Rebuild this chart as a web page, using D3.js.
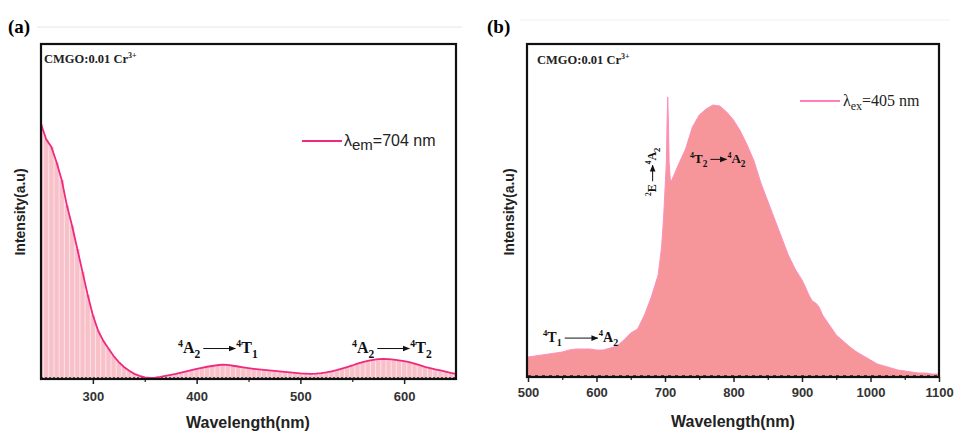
<!DOCTYPE html>
<html><head><meta charset="utf-8">
<script src="https://cdn.jsdelivr.net/npm/d3@7"></script>
<style>body{margin:0;background:#fff}svg{display:block}</style>
</head><body>
<svg id="c" width="956" height="432"></svg>
<script>
// ---- Data: panel (a) excitation spectrum (λem = 704 nm)
const exWavelength = [250,255,260,265,270,275,280,285,290,295,300,305,310,315,320,325,330,335,340,345,350,355,360,365,370,375,380,385,390,395,400,405,410,415,420,425,430,435,440,445,450,455,460,465,470,475,480,485,490,495,500,505,510,515,520,525,530,535,540,545,550,555,560,565,570,575,580,585,590,595,600,605,610,615,620,625,630,635,640,645,650];
const exIntensity = [1.00,0.94,0.91,0.85,0.78,0.68,0.60,0.51,0.42,0.33,0.25,0.19,0.15,0.12,0.09,0.066,0.047,0.032,0.02,0.012,0.006,0.004,0.005,0.008,0.012,0.016,0.02,0.025,0.03,0.035,0.04,0.044,0.048,0.051,0.054,0.056,0.055,0.052,0.049,0.046,0.043,0.04,0.038,0.036,0.034,0.032,0.03,0.028,0.026,0.024,0.022,0.021,0.02,0.021,0.023,0.026,0.03,0.035,0.041,0.047,0.053,0.06,0.066,0.071,0.075,0.078,0.079,0.078,0.076,0.073,0.07,0.066,0.06,0.054,0.048,0.043,0.038,0.034,0.029,0.024,0.02];
const exTicks = [300,400,500,600];

// ---- Data: panel (b) emission spectrum (λex = 405 nm)
const emWavelength = [500,510,520,530,540,550,560,570,580,590,600,610,620,630,640,650,660,670,680,690,695,698,700,702,703,704,705,706,708,710,715,720,730,740,750,760,770,780,790,800,810,820,830,840,850,860,870,880,890,900,905,910,915,920,925,930,940,950,960,970,980,990,1000,1010,1020,1030,1040,1050,1060,1070,1080,1090,1100];
const emIntensity = [20,21,22,23,24,25,27,28,28,28,27,27,29,31,37,44,48,62,80,102,130,160,188,215,255,280,255,215,195,197,205,213,228,250,262,268,272,271,265,257,246,232,216,194,176,158,140,122,108,97,90,82,76,74,70,62,52,42,36,30,25,21,17,13,11,9,7,6,5,4,4,3,3];
const emTicks = [500,600,700,800,900,1000,1100];

const svg = d3.select("#c");
const serif = "'Liberation Serif','Times New Roman',serif";
const sans = "'Liberation Sans',Arial,sans-serif";

// faint header rules
svg.append("line").attr("x1",37).attr("x2",462).attr("y1",27).attr("y2",27).attr("stroke","#e6e6e6");
svg.append("line").attr("x1",520).attr("x2",950).attr("y1",20).attr("y2",20).attr("stroke","#f0f0f0");

// ---------- Panel (a)
const xA = d3.scaleLinear().domain([250,650]).range([41,456]);
const yA = d3.scaleLinear().domain([0,1]).range([379,124]);
const gA = svg.append("g");
svg.append("clipPath").attr("id","clipA").append("rect").attr("x",41).attr("y",44).attr("width",415).attr("height",335);
const plotA = gA.append("g").attr("clip-path","url(#clipA)");
const exData = exWavelength.map((w,i)=>({w, v: exIntensity[i]}));
plotA.append("path").datum(exData)
  .attr("d", d3.area().x(d=>xA(d.w)).y0(yA(0)).y1(d=>yA(d.v)))
  .attr("fill","#fde3e6");
plotA.selectAll("rect.bar").data(exData).enter().append("rect")
  .attr("x", d=>xA(d.w)-2.1).attr("width",4.2)
  .attr("y", d=>yA(d.v)).attr("height", d=>yA(0)-yA(d.v))
  .attr("fill","#f8c1c9");
plotA.append("line").attr("x1",41).attr("x2",456).attr("y1",377.5).attr("y2",377.5)
  .attr("stroke","#555").attr("stroke-width",1).attr("stroke-dasharray","2,2");
plotA.append("path").datum(exData)
  .attr("d", d3.line().x(d=>xA(d.w)).y(d=>yA(d.v)))
  .attr("fill","none").attr("stroke","#f0297f").attr("stroke-width",1.8);

// axis (a)
const axA = gA.append("g").attr("transform","translate(0,379)")
  .call(d3.axisBottom(xA).tickValues(exTicks).tickSize(5).tickFormat(d3.format("d")));
axA.select(".domain").remove();
axA.selectAll("text").attr("font-family",sans).attr("font-weight","bold").attr("font-size",13).attr("fill","#333").attr("dy","1.05em");
axA.selectAll("line").attr("stroke","#222").attr("stroke-width",1.5);
gA.append("g").attr("transform","translate(0,379)")
  .call(d3.axisBottom(xA).tickValues([350,450,550]).tickSize(3).tickFormat(""))
  .call(g=>{g.select(".domain").remove(); g.selectAll("line").attr("stroke","#222").attr("stroke-width",1.2);});
gA.append("rect").attr("x",41).attr("y",44).attr("width",415).attr("height",335)
  .attr("fill","none").attr("stroke","#111").attr("stroke-width",2.2);

gA.append("text").attr("x",248).attr("y",428).attr("text-anchor","middle")
  .attr("font-family",sans).attr("font-weight","bold").attr("font-size",16).attr("fill","#222").text("Wavelength(nm)");
gA.append("text").attr("transform","translate(25,212) rotate(-90)").attr("text-anchor","middle")
  .attr("font-family",sans).attr("font-weight","bold").attr("font-size",14).attr("fill","#222").text("Intensity(a.u)");
svg.append("text").attr("x",8).attr("y",33).attr("font-family",serif).attr("font-weight","bold").attr("font-size",19).text("(a)");
gA.append("text").attr("x",44).attr("y",63).attr("font-family",serif).attr("font-weight","bold").attr("font-size",12.5).attr("fill","#222")
  .html("CMGO:0.01 Cr<tspan dy='-5' font-size='8'>3+</tspan>");
// legend (a)
gA.append("line").attr("x1",302).attr("x2",342).attr("y1",141).attr("y2",141).attr("stroke","#f0297f").attr("stroke-width",2);
gA.append("text").attr("x",344).attr("y",146).attr("font-family",sans).attr("font-size",16).attr("fill","#222")
  .html("λ<tspan dy='4' font-size='15'>em</tspan><tspan dy='-4'>=704 nm</tspan>");

// arrows marker
const defs = svg.append("defs");
defs.append("marker").attr("id","arr").attr("viewBox","0 0 10 10").attr("refX",9).attr("refY",5)
  .attr("markerWidth",7).attr("markerHeight",7).attr("markerUnits","userSpaceOnUse").attr("orient","auto")
  .append("path").attr("d","M0,1 L10,5 L0,9 Z").attr("fill","#111");

function transition(g, x, y, a, b, size, arrowLen) {
  const t1 = g.append("text").attr("x",x).attr("y",y).attr("font-family",serif).attr("font-weight","bold").attr("font-size",size).attr("fill","#111");
  t1.append("tspan").attr("dy",-size*0.4).attr("font-size",size*0.62).text(a[0]);
  t1.append("tspan").attr("dy",size*0.4).text(a[1]);
  t1.append("tspan").attr("dy",size*0.3).attr("font-size",size*0.72).text(a[2]);
  const w1 = t1.node().getComputedTextLength();
  const ax = x + w1 + 3;
  g.append("line").attr("x1",ax).attr("x2",ax+arrowLen).attr("y1",y-size*0.28).attr("y2",y-size*0.28)
    .attr("stroke","#111").attr("stroke-width",1).attr("marker-end","url(#arr)");
  const t2 = g.append("text").attr("x",ax+arrowLen+1).attr("y",y).attr("font-family",serif).attr("font-weight","bold").attr("font-size",size).attr("fill","#111");
  t2.append("tspan").attr("dy",-size*0.4).attr("font-size",size*0.62).text(b[0]);
  t2.append("tspan").attr("dy",size*0.4).text(b[1]);
  t2.append("tspan").attr("dy",size*0.3).attr("font-size",size*0.72).text(b[2]);
}
transition(gA, 178, 353, ["4","A","2"], ["4","T","1"], 16, 32);
transition(gA, 352, 353, ["4","A","2"], ["4","T","2"], 16, 32);

// ---------- Panel (b)
const xB = d3.scaleLinear().domain([500,1100]).range([528,939]);
const yB = d3.scaleLinear().domain([0,280]).range([377,97]);
const gB = svg.append("g");
svg.append("clipPath").attr("id","clipB").append("rect").attr("x",528).attr("y",44).attr("width",411).attr("height",333);
const plotB = gB.append("g").attr("clip-path","url(#clipB)");
const emData = emWavelength.map((w,i)=>({w, v: emIntensity[i]}));
plotB.append("path").datum(emData)
  .attr("d", d3.area().x(d=>xB(d.w)).y0(yB(0)).y1(d=>yB(d.v)))
  .attr("fill","#f7969a");
plotB.append("path").datum(emData)
  .attr("d", d3.line().x(d=>xB(d.w)).y(d=>yB(d.v)))
  .attr("fill","none").attr("stroke","#ff8fc0").attr("stroke-width",1);
plotB.append("line").attr("x1",528).attr("x2",939).attr("y1",375.5).attr("y2",375.5)
  .attr("stroke","#444").attr("stroke-width",1).attr("stroke-dasharray","3,4");

const axB = gB.append("g").attr("transform","translate(0,377)")
  .call(d3.axisBottom(xB).tickValues(emTicks).tickSize(5).tickFormat(d3.format("d")));
axB.select(".domain").remove();
axB.selectAll("text").attr("font-family",sans).attr("font-weight","bold").attr("font-size",13).attr("fill","#333").attr("dy","0.95em");
axB.selectAll("line").attr("stroke","#222").attr("stroke-width",1.5);
gB.append("g").attr("transform","translate(0,377)")
  .call(d3.axisBottom(xB).tickValues([550,650,750,850,950,1050]).tickSize(3).tickFormat(""))
  .call(g=>{g.select(".domain").remove(); g.selectAll("line").attr("stroke","#222").attr("stroke-width",1.2);});
gB.append("rect").attr("x",527).attr("y",44).attr("width",412).attr("height",333)
  .attr("fill","none").attr("stroke","#111").attr("stroke-width",2.2);

gB.append("text").attr("x",733).attr("y",427).attr("text-anchor","middle")
  .attr("font-family",sans).attr("font-weight","bold").attr("font-size",16).attr("fill","#222").text("Wavelength(nm)");
gB.append("text").attr("transform","translate(514,212) rotate(-90)").attr("text-anchor","middle")
  .attr("font-family",sans).attr("font-weight","bold").attr("font-size",14).attr("fill","#222").text("Intensity(a.u)");
svg.append("text").attr("x",487).attr("y",33).attr("font-family",serif).attr("font-weight","bold").attr("font-size",19).text("(b)");
gB.append("text").attr("x",537).attr("y",64).attr("font-family",serif).attr("font-weight","bold").attr("font-size",12.5).attr("fill","#222")
  .html("CMGO:0.01 Cr<tspan dy='-5' font-size='8'>3+</tspan>");
gB.append("line").attr("x1",800).attr("x2",840).attr("y1",101).attr("y2",101).attr("stroke","#ff80b8").attr("stroke-width",2);
gB.append("text").attr("x",843).attr("y",106).attr("font-family",serif).attr("font-size",16).attr("fill","#222")
  .html("λ<tspan dy='4' font-size='12'>ex</tspan><tspan dy='-4'>=405 nm</tspan>");

transition(gB, 543, 342, ["4","T","1"], ["4","A","2"], 14, 33);
transition(gB, 690, 163, ["4","T","2"], ["4","A","2"], 13, 16);
const rot = gB.append("g").attr("transform","translate(656,196) rotate(-90)");
transition(rot, 0, 0, ["2","E",""], ["4","A","2"], 12, 16);
</script>
</body></html>
